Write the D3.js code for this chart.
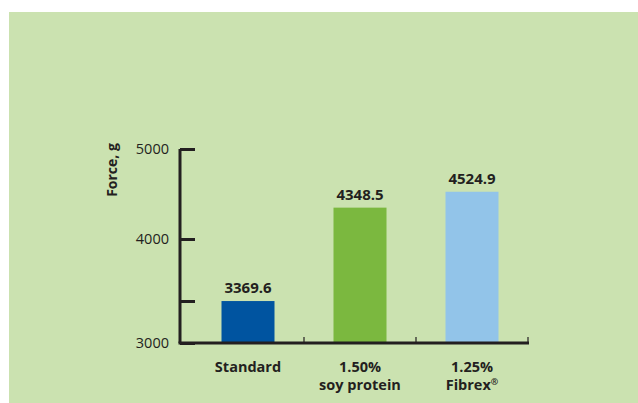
<!DOCTYPE html>
<html>
<head>
<meta charset="utf-8">
<script src="https://cdn.jsdelivr.net/npm/d3@7"></script>
<style>
  body { margin: 0; background: #fff; }
  svg { display: block; font-family: "Open Sans", sans-serif; }
</style>
</head>
<body>
<div id="chart"></div>
<script>
// data
var categories = ["Standard", "1.50%|soy protein", "1.25%|Fibrex^"];
var values = [3369.6, 4348.5, 4524.9];
var barColors = ["#0054a0", "#7bb83f", "#92c4e9"];
var tickValues = [3000, 3370, 4000, 5000];
var tickLabels = ["3000", "", "4000", "5000"];

var w = 638, h = 403;

var svg = d3.select("#chart")
  .append("svg")
    .attr("width", w)
    .attr("height", h);

// green panel
svg.append("rect")
  .attr("x", 9).attr("y", 12)
  .attr("width", w - 9).attr("height", h - 12)
  .attr("fill", "#cbe2b0");

// the original axis is not evenly spaced, so use a piecewise scale
var y = d3.scaleLinear()
  .domain([3000, 3370, 4000, 5000])
  .range([343, 301, 239, 149]);

var x = d3.scaleBand()
  .domain(categories)
  .range([192, 528]);

var barW = 53;
var ink = "#231f20";

// bars
svg.selectAll("rect.bar")
  .data(values)
  .enter().append("rect")
    .attr("class", "bar")
    .attr("x", function(d, i) { return x(categories[i]) + (x.bandwidth() - barW) / 2; })
    .attr("y", function(d) { return y(d); })
    .attr("width", barW)
    .attr("height", function(d) { return y(3000) - y(d); })
    .attr("fill", function(d, i) { return barColors[i]; });

// value labels
svg.selectAll("text.val")
  .data(values)
  .enter().append("text")
    .attr("class", "val")
    .attr("x", function(d, i) { return x(categories[i]) + x.bandwidth() / 2; })
    .attr("y", function(d) { return y(d) - 8; })
    .attr("text-anchor", "middle")
    .attr("font-size", "15px")
    .attr("font-weight", "bold")
    .attr("fill", ink)
    .text(function(d) { return d.toFixed(1); });

// y axis
var yAxis = d3.axisRight(y)
  .tickValues(tickValues)
  .tickFormat(function(d, i) { return tickLabels[i]; })
  .tickSize(15)
  .tickSizeOuter(0);

var gy = svg.append("g")
  .attr("transform", "translate(180,0)")
  .call(yAxis);
gy.select(".domain").attr("stroke", ink).attr("stroke-width", 3)
  .attr("d", "M0," + y(5000) + "V" + y(3000));
gy.selectAll(".tick line").attr("stroke", ink).attr("stroke-width", 3);
gy.selectAll(".tick text")
  .attr("x", -11)
  .attr("text-anchor", "end")
  .attr("font-family", "Open Sans, sans-serif")
  .attr("font-size", "14.5px")
  .attr("fill", ink);

// x axis line
svg.append("line")
  .attr("x1", 178.5).attr("x2", 529)
  .attr("y1", y(3000)).attr("y2", y(3000))
  .attr("stroke", ink).attr("stroke-width", 3);

// small separator ticks between categories
var seps = categories.slice(1).map(function(c) { return x(c); }).concat([x.range()[1]]);
svg.selectAll("line.sep")
  .data(seps)
  .enter().append("line")
    .attr("class", "sep")
    .attr("x1", function(d) { return d; }).attr("x2", function(d) { return d; })
    .attr("y1", y(3000)).attr("y2", y(3000) - 6)
    .attr("stroke", ink).attr("stroke-width", 1.2);

// category labels
var cat = svg.selectAll("text.cat")
  .data(categories)
  .enter().append("text")
    .attr("class", "cat")
    .attr("text-anchor", "middle")
    .attr("font-size", "14.5px")
    .attr("font-weight", "bold")
    .attr("fill", ink);

cat.each(function(d) {
  var t = d3.select(this);
  var cx = x(d) + x.bandwidth() / 2;
  d.split("|").forEach(function(line, k) {
    var sp = t.append("tspan")
      .attr("x", cx)
      .attr("y", 372 + k * 18);
    if (line.slice(-1) === "^") {
      sp.text(line.slice(0, -1));
      t.append("tspan")
        .attr("font-size", "9px")
        .attr("dy", -5)
        .text("\u00ae");
    } else {
      sp.text(line);
    }
  });
});

// y axis title
svg.append("text")
  .attr("transform", "translate(117,170) rotate(-90)")
  .attr("text-anchor", "middle")
  .attr("font-size", "14px")
  .attr("font-weight", "bold")
  .attr("fill", ink)
  .text("Force, g");
</script>
</body>
</html>
